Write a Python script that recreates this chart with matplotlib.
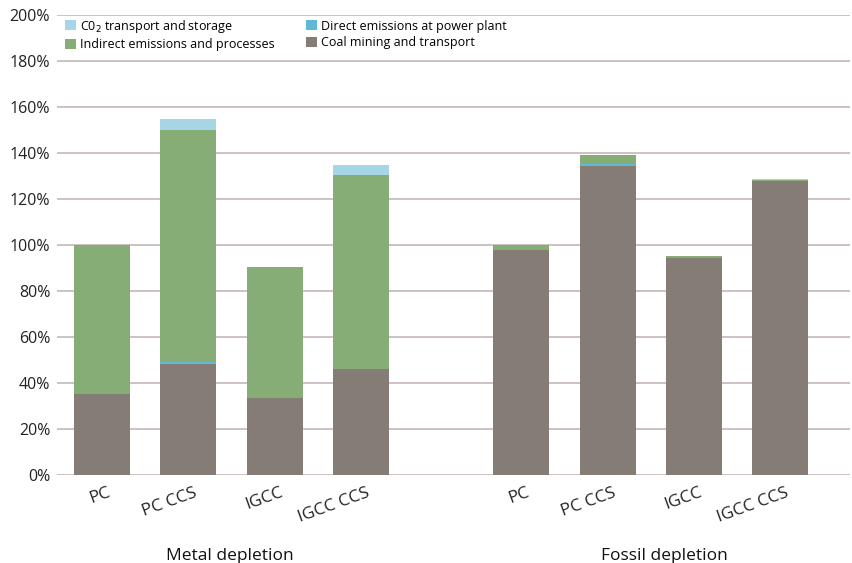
import matplotlib.pyplot as plt
import numpy as np

plt.rcParams['font.family'] = ['Open Sans', 'DejaVu Sans']

# data (percent)
plants = ['PC', 'PC CCS', 'IGCC', 'IGCC CCS']
groups = ['Metal depletion', 'Fossil depletion']
coal = [35.2, 48.3, 33.5, 46.1, 97.8, 134.5, 94.5, 127.8]
direct = [0.0, 0.8, 0.0, 0.0, 0.0, 0.5, 0.0, 0.0]
indirect = [64.8, 100.9, 56.9, 84.3, 2.0, 4.3, 0.6, 0.4]
co2 = [0.0, 4.8, 0.0, 4.4, 0.0, 0.0, 0.0, 0.4]

c_coal = '#857c75'
c_ind = '#86ad76'
c_dir = '#5fb8d6'
c_co2 = '#a6d5e6'

x = np.array([0, 1, 2, 3, 4.86, 5.86, 6.86, 7.86])
w = 0.65

fig = plt.figure(figsize=(8.52, 5.63), dpi=100)
ax = fig.add_axes([0.067, 0.1563, 0.931, 0.8171])

coal = np.array(coal)
direct = np.array(direct)
indirect = np.array(indirect)
co2 = np.array(co2)

b1 = ax.bar(x, coal, w, color=c_coal, zorder=3)
b2 = ax.bar(x, direct, w, bottom=coal, color=c_dir, zorder=3)
b3 = ax.bar(x, indirect, w, bottom=coal + direct, color=c_ind, zorder=3)
b4 = ax.bar(x, co2, w, bottom=coal + direct + indirect, color=c_co2, zorder=3)

ax.set_ylim(0, 200)
ax.set_xlim(-0.52, 8.67)
ax.set_yticks(np.arange(0, 201, 20))
ax.set_yticklabels(['%d%%' % v for v in range(0, 201, 20)], fontsize=11.5, color='#222222')
ax.yaxis.grid(True, color='#c5b8b8', linewidth=1.2, zorder=0)
ax.tick_params(axis='y', length=0, pad=5)
ax.tick_params(axis='x', length=0, pad=7)
for s in ax.spines.values():
    s.set_visible(False)

ax.set_xticks(x + 0.06)
ax.set_xticklabels(plants * 2, rotation=20, ha='right', va='top', rotation_mode='anchor',
                   fontsize=12.5, color='#222222')

ax.text(x[:4].mean() - 0.02, -0.175, groups[0], transform=ax.get_xaxis_transform(),
        ha='center', va='center', fontsize=12.5, color='#111111')
ax.text(x[4:].mean() + 0.16, -0.175, groups[1], transform=ax.get_xaxis_transform(),
        ha='center', va='center', fontsize=12.5, color='#111111')

ax.legend([b4, b3, b2, b1],
          ['C0$_2$ transport and storage', 'Indirect emissions and processes',
           'Direct emissions at power plant', 'Coal mining and transport'],
          ncol=2, loc='upper left', bbox_to_anchor=(0.0, 1.012), frameon=False,
          fontsize=9, handlelength=0.85, handleheight=0.85, handletextpad=0.35,
          columnspacing=2.5, labelspacing=0.3, borderaxespad=0.25)

fig.savefig('out.png', dpi=100)
